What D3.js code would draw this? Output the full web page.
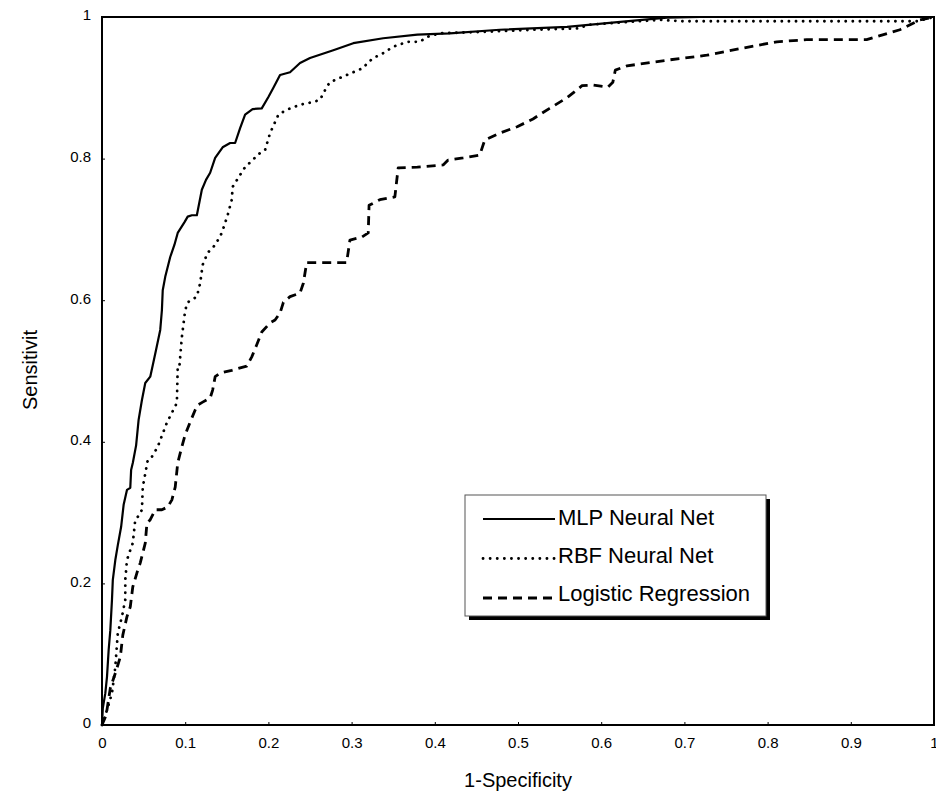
<!DOCTYPE html>
<html>
<head>
<meta charset="utf-8">
<script src="https://cdn.jsdelivr.net/npm/d3@7"></script>
<style>
  body { margin: 0; background: #fff; }
  text { font-family: "Liberation Sans", Arial, sans-serif; fill: #000; }
</style>
</head>
<body>
<div id="chart"></div>
<script>
// ROC curves: [1-specificity, sensitivity]
const mlpPoints = [
  [0, 0], [0.001, 0.024], [0.004, 0.045], [0.006, 0.068], [0.008, 0.106], [0.010, 0.134],
  [0.012, 0.177], [0.013, 0.205], [0.016, 0.233], [0.019, 0.254], [0.023, 0.280], [0.026, 0.311],
  [0.030, 0.332], [0.034, 0.335], [0.035, 0.360], [0.037, 0.370], [0.041, 0.395], [0.044, 0.431],
  [0.048, 0.459], [0.052, 0.483], [0.058, 0.492], [0.061, 0.508], [0.065, 0.530], [0.070, 0.558],
  [0.072, 0.586], [0.073, 0.614], [0.076, 0.633], [0.082, 0.661], [0.087, 0.678], [0.091, 0.695],
  [0.099, 0.710], [0.103, 0.718], [0.108, 0.720], [0.114, 0.720], [0.120, 0.756], [0.125, 0.770],
  [0.130, 0.780], [0.136, 0.801], [0.145, 0.816], [0.154, 0.822], [0.160, 0.822], [0.166, 0.843],
  [0.172, 0.862], [0.181, 0.870], [0.192, 0.871], [0.200, 0.887], [0.206, 0.900], [0.214, 0.918],
  [0.226, 0.922], [0.238, 0.935], [0.250, 0.942], [0.278, 0.953], [0.302, 0.963], [0.338, 0.970],
  [0.379, 0.975], [0.418, 0.977], [0.478, 0.982], [0.559, 0.986], [0.623, 0.993], [0.679, 0.999],
  [0.719, 1.0], [1, 1]
];

const rbfPoints = [
  [0, 0], [0.006, 0.021], [0.012, 0.045], [0.016, 0.082], [0.019, 0.130], [0.024, 0.153],
  [0.028, 0.177], [0.028, 0.205], [0.030, 0.233], [0.034, 0.247], [0.037, 0.257], [0.040, 0.290],
  [0.043, 0.294], [0.048, 0.304], [0.049, 0.336], [0.055, 0.374], [0.060, 0.379], [0.067, 0.393],
  [0.078, 0.427], [0.090, 0.455], [0.091, 0.506], [0.093, 0.506], [0.096, 0.548], [0.100, 0.586],
  [0.103, 0.597], [0.114, 0.605], [0.118, 0.624], [0.121, 0.650], [0.127, 0.667], [0.136, 0.678],
  [0.144, 0.695], [0.151, 0.720], [0.156, 0.742], [0.157, 0.760], [0.166, 0.777], [0.172, 0.788],
  [0.181, 0.798], [0.190, 0.808], [0.196, 0.812], [0.202, 0.836], [0.212, 0.862], [0.222, 0.869],
  [0.238, 0.876], [0.254, 0.880], [0.262, 0.883], [0.270, 0.901], [0.274, 0.908], [0.286, 0.914],
  [0.302, 0.922], [0.314, 0.928], [0.319, 0.935], [0.326, 0.942], [0.338, 0.949], [0.350, 0.958],
  [0.367, 0.965], [0.382, 0.965], [0.391, 0.972], [0.406, 0.977], [0.458, 0.979], [0.518, 0.982],
  [0.575, 0.984], [0.583, 0.989], [0.671, 0.996], [0.698, 0.994], [0.980, 0.994], [1, 1]
];

const logPoints = [
  [0, 0], [0.005, 0.014], [0.010, 0.052], [0.016, 0.073], [0.022, 0.096], [0.025, 0.127],
  [0.030, 0.153], [0.034, 0.167], [0.037, 0.195], [0.042, 0.215], [0.046, 0.229], [0.052, 0.257],
  [0.054, 0.285], [0.058, 0.290], [0.064, 0.304], [0.072, 0.304], [0.079, 0.308], [0.084, 0.318],
  [0.088, 0.336], [0.091, 0.370], [0.096, 0.393], [0.100, 0.410], [0.106, 0.428], [0.112, 0.445],
  [0.115, 0.452], [0.121, 0.456], [0.130, 0.462], [0.133, 0.473], [0.136, 0.492], [0.142, 0.497],
  [0.156, 0.501], [0.174, 0.507], [0.180, 0.520], [0.186, 0.537], [0.192, 0.555], [0.202, 0.568],
  [0.208, 0.572], [0.214, 0.582], [0.218, 0.597], [0.226, 0.605], [0.238, 0.610], [0.242, 0.624],
  [0.246, 0.653], [0.294, 0.653], [0.298, 0.685], [0.312, 0.689], [0.320, 0.695], [0.321, 0.734],
  [0.334, 0.742], [0.352, 0.746], [0.356, 0.787], [0.379, 0.788], [0.410, 0.791], [0.416, 0.798],
  [0.434, 0.801], [0.454, 0.805], [0.460, 0.826], [0.478, 0.836], [0.499, 0.845], [0.518, 0.856],
  [0.538, 0.871], [0.559, 0.886], [0.577, 0.903], [0.590, 0.904], [0.608, 0.901], [0.614, 0.908],
  [0.617, 0.925], [0.631, 0.931], [0.679, 0.939], [0.727, 0.946], [0.770, 0.956], [0.811, 0.965],
  [0.847, 0.968], [0.919, 0.968], [0.959, 0.982], [0.983, 0.996], [1, 1]
];

const xTicks = [0, 0.1, 0.2, 0.3, 0.4, 0.5, 0.6, 0.7, 0.8, 0.9, 1];
const yTicks = [0, 0.2, 0.4, 0.6, 0.8, 1];
const seriesNames = ["MLP Neural Net", "RBF Neural Net", "Logistic Regression"];

const width = 936, height = 796;
const margin = { top: 17, right: 2, bottom: 71, left: 102 };
const innerW = width - margin.left - margin.right,
  innerH = height - margin.top - margin.bottom;

const svg = d3.select("#chart").append("svg")
  .attr("width", width)
  .attr("height", height);

const g = svg.append("g")
  .attr("transform", `translate(${margin.left},${margin.top})`);

const x = d3.scaleLinear().domain([0, 1]).range([0, innerW]);
const y = d3.scaleLinear().domain([0, 1]).range([innerH, 0]);

// line styles for the three series
const styles = [
  { width: 2.2, dash: null, cap: "butt" },
  { width: 2.8, dash: "0.1,7", cap: "round" },
  { width: 2.8, dash: "9,6", cap: "butt" }
];

// axes
const xAxis = g.append("g")
  .attr("transform", `translate(0,${innerH})`)
  .call(d3.axisBottom(x).tickValues(xTicks).tickSize(-3).tickPadding(12).tickFormat(d3.format("")));
const yAxis = g.append("g")
  .call(d3.axisLeft(y).tickValues(yTicks).tickSize(-3).tickPadding(11).tickFormat(d3.format("")));

[xAxis, yAxis].forEach(a => {
  a.select(".domain").remove();
  a.selectAll("line").attr("stroke", "#000").attr("stroke-width", 1);
  a.selectAll("text").style("font-size", "15px").attr("fill", "#000");
});
yAxis.selectAll("text").attr("transform", "translate(0,-2)");

// frame
g.append("rect")
  .attr("width", innerW).attr("height", innerH)
  .attr("fill", "none").attr("stroke", "#000").attr("stroke-width", 2);

const line = d3.line().x(d => x(d[0])).y(d => y(d[1]));

[mlpPoints, rbfPoints, logPoints].forEach((pts, i) => {
  g.append("path")
    .datum(pts)
    .attr("d", line)
    .attr("fill", "none")
    .attr("stroke", "#000")
    .attr("stroke-width", styles[i].width)
    .attr("stroke-linecap", styles[i].cap)
    .attr("stroke-linejoin", "round")
    .attr("stroke-dasharray", styles[i].dash);
});

// axis titles
svg.append("text")
  .attr("x", margin.left + innerW / 2)
  .attr("y", 787)
  .attr("text-anchor", "middle")
  .style("font-size", "20px")
  .text("1-Specificity");

svg.append("text")
  .attr("transform", "translate(37,370) rotate(-90)")
  .attr("text-anchor", "middle")
  .style("font-size", "20px")
  .text("Sensitivit");

// legend with drop shadow
const legend = svg.append("g").attr("transform", "translate(465,495)");
legend.append("rect")
  .attr("x", 4).attr("y", 4).attr("width", 301).attr("height", 121)
  .attr("fill", "#000");
legend.append("rect")
  .attr("width", 301).attr("height", 121)
  .attr("fill", "#fff").attr("stroke", "#555").attr("stroke-width", 1);

seriesNames.forEach((name, i) => {
  const ry = 22 + i * 38;
  legend.append("line")
    .attr("x1", 18).attr("x2", 90)
    .attr("y1", ry + 2 + i * 1.5).attr("y2", ry + 2 + i * 1.5)
    .attr("stroke", "#000")
    .attr("stroke-width", styles[i].width)
    .attr("stroke-linecap", styles[i].cap)
    .attr("stroke-dasharray", styles[i].dash);
  legend.append("text")
    .attr("x", 93).attr("y", ry)
    .attr("dy", "0.35em")
    .style("font-size", "22px")
    .text(name);
});
</script>
</body>
</html>
